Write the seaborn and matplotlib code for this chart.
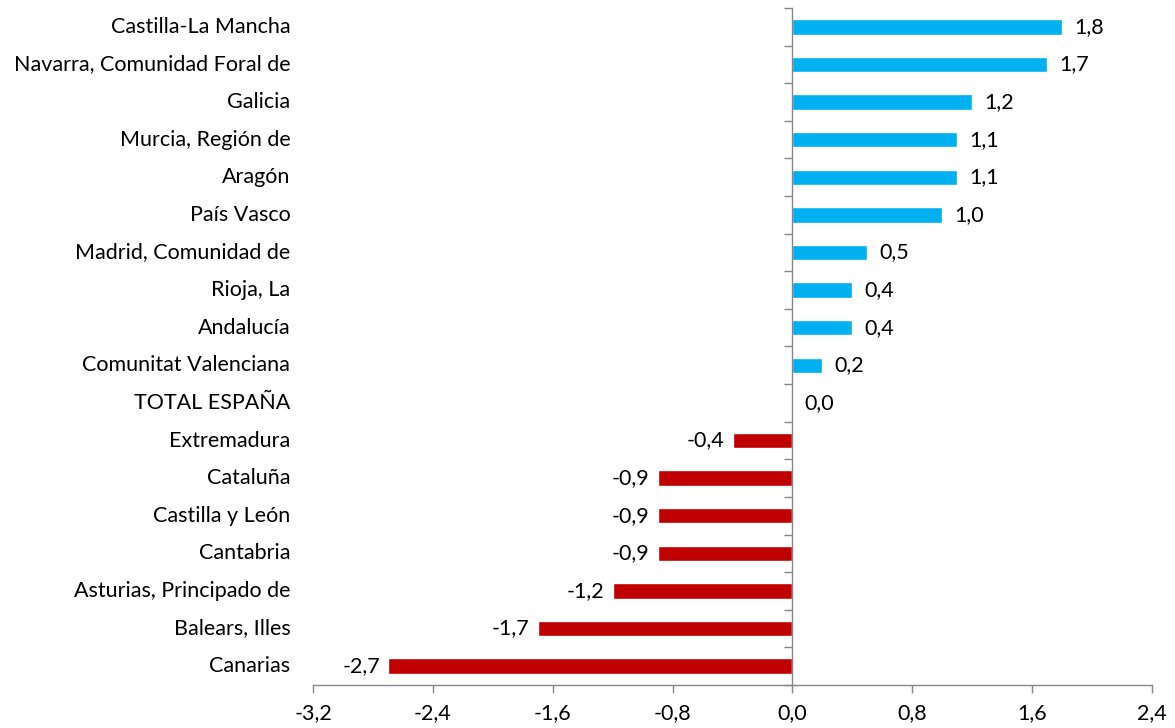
import matplotlib
matplotlib.use("Agg")
import matplotlib.pyplot as plt
import matplotlib.transforms as mtransforms
from matplotlib.ticker import FuncFormatter, FixedLocator
import seaborn as sns
import pandas as pd

categories = [
    "Castilla-La Mancha", "Navarra, Comunidad Foral de", "Galicia",
    "Murcia, Región de", "Aragón", "País Vasco", "Madrid, Comunidad de",
    "Rioja, La", "Andalucía", "Comunitat Valenciana", "TOTAL ESPAÑA",
    "Extremadura", "Cataluña", "Castilla y León", "Cantabria",
    "Asturias, Principado de", "Balears, Illes", "Canarias",
]
values = [1.8, 1.7, 1.2, 1.1, 1.1, 1.0, 0.5, 0.4, 0.4, 0.2, 0.0,
          -0.4, -0.9, -0.9, -0.9, -1.2, -1.7, -2.7]
x_ticks = [-3.2, -2.4, -1.6, -0.8, 0.0, 0.8, 1.6, 2.4]

POS = "#00B0F0"
NEG = "#C00000"
GRAY = "#868686"
TEXT = "#000000"
FS = 15.5

df = pd.DataFrame({"cat": categories, "val": values})
df["sign"] = ["neg" if v < 0 else "pos" for v in values]

sns.set_theme(style="white")
plt.rcParams["font.family"] = ["Lato", "DejaVu Sans"]

fig = plt.figure(figsize=(11.75, 7.28), dpi=100)
ax = fig.add_axes([313 / 1175, 1 - 685 / 728, (1152 - 313) / 1175, (685 - 8) / 728])

sns.barplot(data=df, y="cat", x="val", hue="sign", order=categories,
            palette={"pos": POS, "neg": NEG}, dodge=False, width=0.41,
            legend=False, ax=ax, orient="h", saturation=1)

ax.set_xlim(-3.2, 2.4)
ax.set_ylim(len(categories) - 0.5, -0.5)
ax.set_xlabel("")
ax.set_ylabel("")

ax.xaxis.set_major_locator(FixedLocator(x_ticks))
ax.xaxis.set_major_formatter(FuncFormatter(lambda v, p: f"{v:.1f}".replace(".", ",")))
ax.tick_params(axis="x", direction="out", length=6, width=1, color=GRAY,
               labelsize=FS, labelcolor=TEXT, pad=7, bottom=True)

for s in ["top", "right"]:
    ax.spines[s].set_visible(False)
ax.spines["bottom"].set_color(GRAY)
ax.spines["bottom"].set_linewidth(1)
ax.spines["left"].set_position(("data", 0))
ax.spines["left"].set_color(GRAY)
ax.spines["left"].set_linewidth(1)

ax.set_yticks(range(len(categories)))
ax.set_yticklabels([""] * len(categories))
ax.tick_params(axis="y", which="major", length=0, left=True)
ax.yaxis.set_minor_locator(FixedLocator([i - 0.5 for i in range(len(categories) + 1)]))
ax.tick_params(axis="y", which="minor", direction="out", length=6, width=1,
               color=GRAY, left=True)

trans = mtransforms.blended_transform_factory(ax.transAxes, ax.transData)
for i, c in enumerate(categories):
    ax.text(-0.027, i, c, transform=trans, ha="right", va="center",
            fontsize=FS, color=TEXT)

px = 1 / 150.0  # data units per pixel approx
for i, v in enumerate(values):
    lab = f"{v:.1f}".replace(".", ",")
    if v >= 0:
        ax.text(v + 12 * px, i, lab, ha="left", va="center", fontsize=FS, color=TEXT)
    else:
        ax.text(v - 8 * px, i, lab, ha="right", va="center", fontsize=FS, color=TEXT)

fig.savefig("out.png", dpi=100)
